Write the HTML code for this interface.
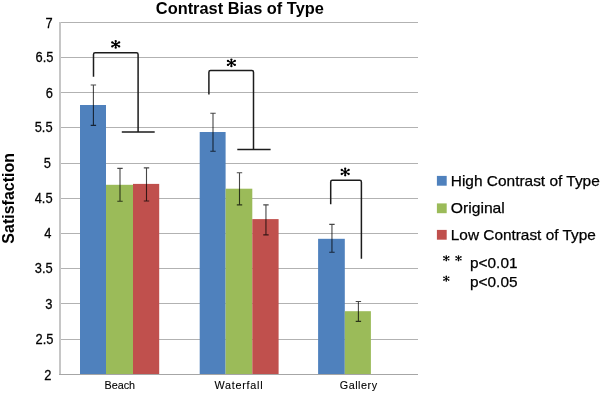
<!DOCTYPE html>
<html><head><meta charset="utf-8"><title>Contrast Bias of Type</title><style>html,body{margin:0;padding:0;background:#fff;overflow:hidden}svg{display:block;will-change:transform}</style></head><body>
<svg width="600" height="393" viewBox="0 0 600 393">
<rect width="600" height="393" fill="#fff"/>
<rect x="60" y="22" width="358" height="1" fill="#b2b2b2"/>
<rect x="60" y="57" width="358" height="1" fill="#b2b2b2"/>
<rect x="60" y="92" width="358" height="1" fill="#b2b2b2"/>
<rect x="60" y="127" width="358" height="1" fill="#b2b2b2"/>
<rect x="60" y="163" width="358" height="1" fill="#b2b2b2"/>
<rect x="60" y="198" width="358" height="1" fill="#b2b2b2"/>
<rect x="60" y="233" width="358" height="1" fill="#b2b2b2"/>
<rect x="60" y="268" width="358" height="1" fill="#b2b2b2"/>
<rect x="60" y="303" width="358" height="1" fill="#b2b2b2"/>
<rect x="60" y="339" width="358" height="1" fill="#b2b2b2"/>
<rect x="80" y="105.0" width="26.00" height="269.50" fill="#4f81bd"/>
<rect x="106" y="184.8" width="27.00" height="189.70" fill="#9bbb59"/>
<rect x="133" y="183.9" width="26.20" height="190.60" fill="#c0504d"/>
<rect x="199.7" y="132.0" width="25.90" height="242.50" fill="#4f81bd"/>
<rect x="225.6" y="188.7" width="26.70" height="185.80" fill="#9bbb59"/>
<rect x="252.3" y="219.1" width="26.30" height="155.40" fill="#c0504d"/>
<rect x="318.1" y="238.8" width="26.70" height="135.70" fill="#4f81bd"/>
<rect x="344.8" y="311.2" width="26.10" height="63.30" fill="#9bbb59"/>
<rect x="59" y="22" width="2" height="353" fill="#c6c6c6"/>
<rect x="59" y="374" width="359" height="1" fill="#a6a6a6"/>
<path d="M93.4 85.0V125.4M90.70 85.0h5.4M90.70 125.4h5.4" stroke="#000" stroke-opacity="0.72" stroke-width="1.1" fill="none"/>
<path d="M120.0 168.4V201.3M117.30 168.4h5.4M117.30 201.3h5.4" stroke="#000" stroke-opacity="0.72" stroke-width="1.1" fill="none"/>
<path d="M146.5 167.9V201.0M143.80 167.9h5.4M143.80 201.0h5.4" stroke="#000" stroke-opacity="0.72" stroke-width="1.1" fill="none"/>
<path d="M213.0 113.3V151.3M210.30 113.3h5.4M210.30 151.3h5.4" stroke="#000" stroke-opacity="0.72" stroke-width="1.1" fill="none"/>
<path d="M239.5 172.7V204.9M236.80 172.7h5.4M236.80 204.9h5.4" stroke="#000" stroke-opacity="0.72" stroke-width="1.1" fill="none"/>
<path d="M265.95 204.9V234.9M263.25 204.9h5.4M263.25 234.9h5.4" stroke="#000" stroke-opacity="0.72" stroke-width="1.1" fill="none"/>
<path d="M331.95 224.4V252.2M329.25 224.4h5.4M329.25 252.2h5.4" stroke="#000" stroke-opacity="0.72" stroke-width="1.1" fill="none"/>
<path d="M358.4 301.5V321.4M355.70 301.5h5.4M355.70 321.4h5.4" stroke="#000" stroke-opacity="0.72" stroke-width="1.1" fill="none"/>
<path d="M93.5 76.8V54.4Q93.5 52.8 95.1 52.8H136.5Q138.1 52.8 138.1 54.4V131.9M121.8 131.9H154.7" stroke="#1c1c1c" stroke-width="1.5" fill="none" stroke-linejoin="round"/>
<path d="M208.9 94.5V72.19999999999999Q208.9 70.6 210.5 70.6H251.9Q253.5 70.6 253.5 72.19999999999999V149.6M237.3 149.6H270.6" stroke="#1c1c1c" stroke-width="1.5" fill="none" stroke-linejoin="round"/>
<path d="M330.7 204.3V181.9Q330.7 180.3 332.3 180.3H359.79999999999995Q361.4 180.3 361.4 181.9V258.8" stroke="#1c1c1c" stroke-width="1.5" fill="none" stroke-linejoin="round"/>
<path d="M115.70 44.40L115.70 41.10M115.70 44.40L115.70 47.70M115.70 44.40L119.16 46.40M115.70 44.40L112.24 46.40M115.70 44.40L112.24 42.40M115.70 44.40L119.16 42.40" stroke="#000" stroke-width="1.25" fill="none"/><circle cx="115.70" cy="41.10" r="1.15" fill="#000"/><circle cx="115.70" cy="47.70" r="1.15" fill="#000"/><circle cx="119.16" cy="46.40" r="1.15" fill="#000"/><circle cx="112.24" cy="46.40" r="1.15" fill="#000"/><circle cx="112.24" cy="42.40" r="1.15" fill="#000"/><circle cx="119.16" cy="42.40" r="1.15" fill="#000"/><circle cx="115.7" cy="44.4" r="1.40" fill="#000"/>
<path d="M231.40 62.90L231.40 59.60M231.40 62.90L231.40 66.20M231.40 62.90L234.86 64.90M231.40 62.90L227.94 64.90M231.40 62.90L227.94 60.90M231.40 62.90L234.86 60.90" stroke="#000" stroke-width="1.25" fill="none"/><circle cx="231.40" cy="59.60" r="1.15" fill="#000"/><circle cx="231.40" cy="66.20" r="1.15" fill="#000"/><circle cx="234.86" cy="64.90" r="1.15" fill="#000"/><circle cx="227.94" cy="64.90" r="1.15" fill="#000"/><circle cx="227.94" cy="60.90" r="1.15" fill="#000"/><circle cx="234.86" cy="60.90" r="1.15" fill="#000"/><circle cx="231.4" cy="62.9" r="1.40" fill="#000"/>
<path d="M345.20 172.00L345.20 168.70M345.20 172.00L345.20 175.30M345.20 172.00L348.66 174.00M345.20 172.00L341.74 174.00M345.20 172.00L341.74 170.00M345.20 172.00L348.66 170.00" stroke="#000" stroke-width="1.25" fill="none"/><circle cx="345.20" cy="168.70" r="1.15" fill="#000"/><circle cx="345.20" cy="175.30" r="1.15" fill="#000"/><circle cx="348.66" cy="174.00" r="1.15" fill="#000"/><circle cx="341.74" cy="174.00" r="1.15" fill="#000"/><circle cx="341.74" cy="170.00" r="1.15" fill="#000"/><circle cx="348.66" cy="170.00" r="1.15" fill="#000"/><circle cx="345.2" cy="172.0" r="1.40" fill="#000"/>
<path d="M446.30 258.30L446.30 255.99M446.30 258.30L446.30 260.61M446.30 258.30L448.72 259.70M446.30 258.30L443.88 259.70M446.30 258.30L443.88 256.90M446.30 258.30L448.72 256.90" stroke="#000" stroke-width="0.88" fill="none"/><circle cx="446.30" cy="255.99" r="0.80" fill="#000"/><circle cx="446.30" cy="260.61" r="0.80" fill="#000"/><circle cx="448.72" cy="259.70" r="0.80" fill="#000"/><circle cx="443.88" cy="259.70" r="0.80" fill="#000"/><circle cx="443.88" cy="256.90" r="0.80" fill="#000"/><circle cx="448.72" cy="256.90" r="0.80" fill="#000"/><circle cx="446.3" cy="258.3" r="0.98" fill="#000"/>
<path d="M458.50 258.30L458.50 255.99M458.50 258.30L458.50 260.61M458.50 258.30L460.92 259.70M458.50 258.30L456.08 259.70M458.50 258.30L456.08 256.90M458.50 258.30L460.92 256.90" stroke="#000" stroke-width="0.88" fill="none"/><circle cx="458.50" cy="255.99" r="0.80" fill="#000"/><circle cx="458.50" cy="260.61" r="0.80" fill="#000"/><circle cx="460.92" cy="259.70" r="0.80" fill="#000"/><circle cx="456.08" cy="259.70" r="0.80" fill="#000"/><circle cx="456.08" cy="256.90" r="0.80" fill="#000"/><circle cx="460.92" cy="256.90" r="0.80" fill="#000"/><circle cx="458.5" cy="258.3" r="0.98" fill="#000"/>
<path d="M446.30 278.70L446.30 276.39M446.30 278.70L446.30 281.01M446.30 278.70L448.72 280.10M446.30 278.70L443.88 280.10M446.30 278.70L443.88 277.30M446.30 278.70L448.72 277.30" stroke="#000" stroke-width="0.88" fill="none"/><circle cx="446.30" cy="276.39" r="0.80" fill="#000"/><circle cx="446.30" cy="281.01" r="0.80" fill="#000"/><circle cx="448.72" cy="280.10" r="0.80" fill="#000"/><circle cx="443.88" cy="280.10" r="0.80" fill="#000"/><circle cx="443.88" cy="277.30" r="0.80" fill="#000"/><circle cx="448.72" cy="277.30" r="0.80" fill="#000"/><circle cx="446.3" cy="278.7" r="0.98" fill="#000"/>
<text x="239.85" y="13.7" font-family="Liberation Sans, sans-serif" font-size="16" font-weight="bold" text-anchor="middle" textLength="168" lengthAdjust="spacingAndGlyphs" fill="#000">Contrast Bias of Type</text>
<text transform="translate(49.00,27.80) scale(0.92,1)" font-family="Liberation Sans, sans-serif" font-size="14" text-anchor="middle" fill="#000" stroke="#000" stroke-width="0.25">7</text>
<text transform="translate(44.55,61.75) scale(0.92,1)" font-family="Liberation Sans, sans-serif" font-size="14" text-anchor="middle" fill="#000" stroke="#000" stroke-width="0.25">6.5</text>
<text transform="translate(49.40,97.95) scale(0.92,1)" font-family="Liberation Sans, sans-serif" font-size="14" text-anchor="middle" fill="#000" stroke="#000" stroke-width="0.25">6</text>
<text transform="translate(43.60,132.25) scale(0.92,1)" font-family="Liberation Sans, sans-serif" font-size="14" text-anchor="middle" fill="#000" stroke="#000" stroke-width="0.25">5.5</text>
<text transform="translate(47.35,167.80) scale(0.92,1)" font-family="Liberation Sans, sans-serif" font-size="14" text-anchor="middle" fill="#000" stroke="#000" stroke-width="0.25">5</text>
<text transform="translate(43.60,202.50) scale(0.92,1)" font-family="Liberation Sans, sans-serif" font-size="14" text-anchor="middle" fill="#000" stroke="#000" stroke-width="0.25">4.5</text>
<text transform="translate(47.95,238.10) scale(0.92,1)" font-family="Liberation Sans, sans-serif" font-size="14" text-anchor="middle" fill="#000" stroke="#000" stroke-width="0.25">4</text>
<text transform="translate(43.70,273.25) scale(0.92,1)" font-family="Liberation Sans, sans-serif" font-size="14" text-anchor="middle" fill="#000" stroke="#000" stroke-width="0.25">3.5</text>
<text transform="translate(48.75,309.10) scale(0.92,1)" font-family="Liberation Sans, sans-serif" font-size="14" text-anchor="middle" fill="#000" stroke="#000" stroke-width="0.25">3</text>
<text transform="translate(44.55,344.40) scale(0.92,1)" font-family="Liberation Sans, sans-serif" font-size="14" text-anchor="middle" fill="#000" stroke="#000" stroke-width="0.25">2.5</text>
<text transform="translate(47.95,379.90) scale(0.92,1)" font-family="Liberation Sans, sans-serif" font-size="14" text-anchor="middle" fill="#000" stroke="#000" stroke-width="0.25">2</text>
<text transform="translate(13.8,198.3) rotate(-90)" font-family="Liberation Sans, sans-serif" font-size="16" font-weight="bold" text-anchor="middle" fill="#000">Satisfaction</text>
<text x="119.85" y="389.3" font-family="Liberation Sans, sans-serif" font-size="10.8" text-anchor="middle" textLength="30.5" lengthAdjust="spacing" fill="#000" stroke="#000" stroke-width="0.1">Beach</text>
<text x="238.5" y="389.3" font-family="Liberation Sans, sans-serif" font-size="10.8" text-anchor="middle" textLength="48.2" lengthAdjust="spacing" fill="#000" stroke="#000" stroke-width="0.1">Waterfall</text>
<text x="358.4" y="389.3" font-family="Liberation Sans, sans-serif" font-size="10.8" text-anchor="middle" textLength="37.3" lengthAdjust="spacing" fill="#000" stroke="#000" stroke-width="0.1">Gallery</text>
<rect x="436.9" y="175.9" width="9.8" height="9.8" fill="#4f81bd"/>
<rect x="436.9" y="203.4" width="9.8" height="9.8" fill="#9bbb59"/>
<rect x="436.9" y="229.9" width="9.8" height="9.8" fill="#c0504d"/>
<text x="450.8" y="185.6" font-family="Liberation Sans, sans-serif" font-size="15" textLength="149" lengthAdjust="spacingAndGlyphs" fill="#000" stroke="#000" stroke-width="0.25">High Contrast of Type</text>
<text x="450.8" y="212.5" font-family="Liberation Sans, sans-serif" font-size="15" textLength="54" lengthAdjust="spacingAndGlyphs" fill="#000" stroke="#000" stroke-width="0.25">Original</text>
<text x="450.8" y="239.8" font-family="Liberation Sans, sans-serif" font-size="15" textLength="145" lengthAdjust="spacingAndGlyphs" fill="#000" stroke="#000" stroke-width="0.25">Low Contrast of Type</text>
<text x="470" y="267.7" font-family="Liberation Sans, sans-serif" font-size="14" textLength="47.5" lengthAdjust="spacingAndGlyphs" fill="#000" stroke="#000" stroke-width="0.25">p&lt;0.01</text>
<text x="470" y="286.7" font-family="Liberation Sans, sans-serif" font-size="14" textLength="47.5" lengthAdjust="spacingAndGlyphs" fill="#000" stroke="#000" stroke-width="0.25">p&lt;0.05</text>
</svg>
</body></html>
